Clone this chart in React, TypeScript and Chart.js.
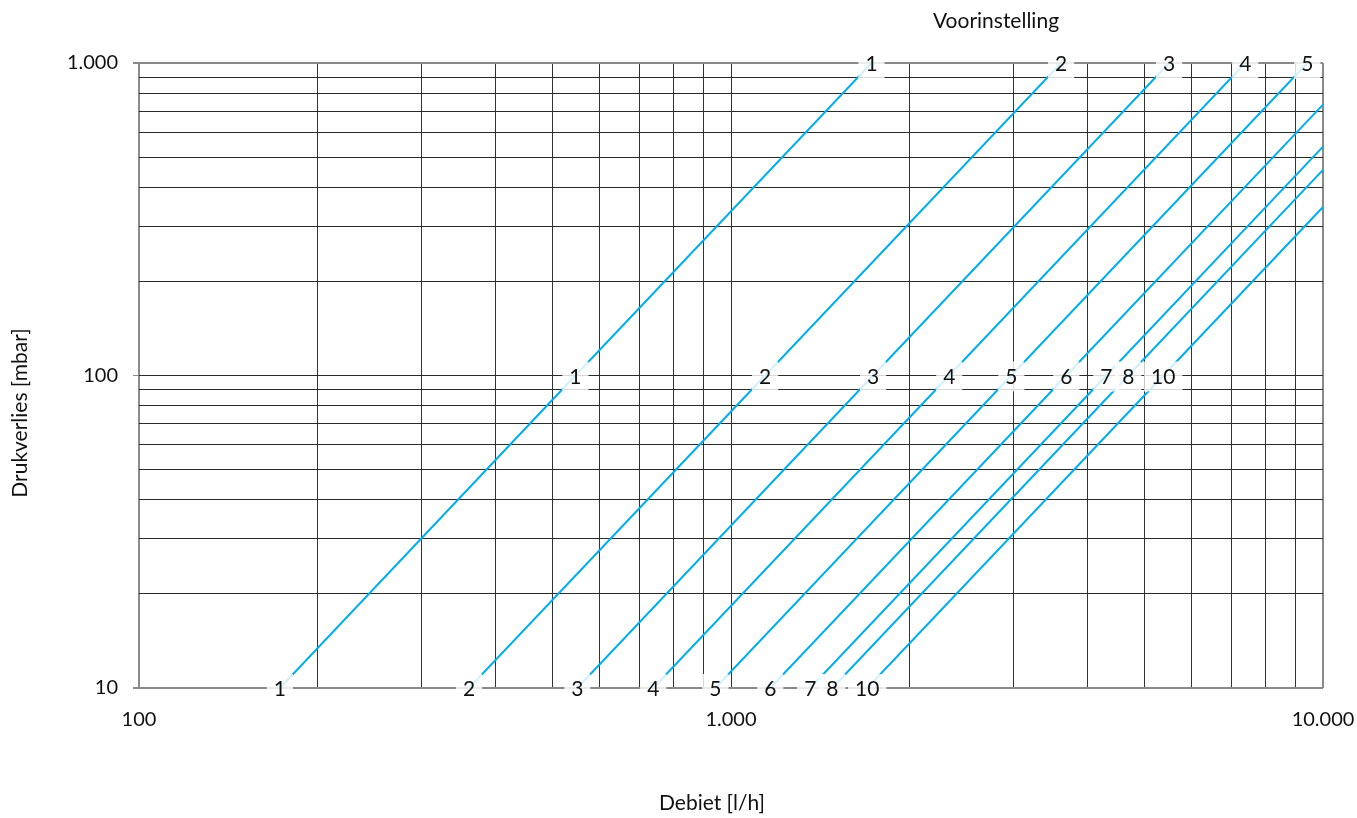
import { useEffect, useRef } from 'react';
import { Chart, registerables } from 'chart.js';

Chart.register(...registerables);

// Voorinstelling (pre-setting) curves
const SETTINGS = ['1', '2', '3', '4', '5', '6', '7', '8', '10'];
// flow [l/h] at 10 mbar
const FLOW_AT_10 = [173, 361, 550, 739, 941, 1165, 1361, 1483, 1699];
// flow [l/h] at 100 mbar
const FLOW_AT_100 = [546, 1142, 1738, 2337, 2975, 3685, 4305, 4689, 5373];
// end point of each curve (top edge or right edge of the chart)
const END_FLOW = [1727, 3611, 5496, 7390, 9408, 10000, 10000, 10000, 10000];
const END_PRESSURE = [1000, 1000, 1000, 1000, 1000, 736, 540, 455, 346];

const X_GRID = [100, 200, 300, 400, 500, 600, 700, 800, 900, 1000, 2000, 3000, 4000, 5000, 6000, 7000, 8000, 9000, 10000];
const Y_GRID = [10, 20, 30, 40, 50, 60, 70, 80, 90, 100, 200, 300, 400, 500, 600, 700, 800, 900, 1000];
const X_TICK_VALUES = [100, 1000, 10000];
const X_TICK_LABELS = ['100', '1.000', '10.000'];
const Y_TICK_VALUES = [10, 100, 1000];
const Y_TICK_LABELS = ['10', '100', '1.000'];

const X_TITLE = 'Debiet [l/h]';
const Y_TITLE = 'Drukverlies [mbar]';
const TOP_TITLE = 'Voorinstelling';

const FONT = 'Lato, "Open Sans", sans-serif';
const BLUE = '#00aeef';

export default function App() {
  const ref = useRef<HTMLCanvasElement | null>(null);

  useEffect(() => {
    if (!ref.current) return;

    const datasets = SETTINGS.map((s, i) => ({
      label: s,
      data: [
        { x: FLOW_AT_10[i], y: 10 },
        { x: FLOW_AT_100[i], y: 100 },
        { x: END_FLOW[i], y: END_PRESSURE[i] },
      ],
      borderColor: BLUE,
      backgroundColor: BLUE,
      borderWidth: 2,
      pointRadius: 0,
      tension: 0,
      fill: false,
    }));

    const labelPoints = (i: number): [number, number][] => {
      const pts: [number, number][] = [
        [FLOW_AT_10[i], 10],
        [FLOW_AT_100[i], 100],
      ];
      if (END_PRESSURE[i] === 1000) pts.push([END_FLOW[i], 1000]);
      return pts;
    };

    const labelPlugin = {
      id: 'curveLabels',
      afterDatasetsDraw(chart: any) {
        const ctx = chart.ctx;
        const xs = chart.scales.x;
        const ys = chart.scales.y;
        ctx.save();
        ctx.font = `21px ${FONT}`;
        SETTINGS.forEach((s, i) => {
          labelPoints(i).forEach(([q, p]) => {
            const px = xs.getPixelForValue(q);
            const py = ys.getPixelForValue(p);
            const w = ctx.measureText(s).width + 14;
            const h = 30;
            ctx.fillStyle = 'rgba(255,255,255,0.82)';
            ctx.fillRect(px - w / 2, py - h / 2 + 1, w, h);
          });
        });
        ctx.fillStyle = '#111';
        ctx.textAlign = 'center';
        ctx.textBaseline = 'alphabetic';
        SETTINGS.forEach((s, i) => {
          labelPoints(i).forEach(([q, p]) => {
            const px = xs.getPixelForValue(q);
            const py = ys.getPixelForValue(p);
            ctx.fillText(s, px, py + 8);
          });
        });
        ctx.restore();
      },
      afterDraw(chart: any) {
        const ctx = chart.ctx;
        ctx.save();
        ctx.fillStyle = '#111';
        ctx.font = `21px ${FONT}`;
        ctx.textAlign = 'center';
        ctx.textBaseline = 'alphabetic';
        ctx.fillText(TOP_TITLE, 996, 28);
        ctx.fillText(X_TITLE, 712, 810);
        ctx.translate(27, 413);
        ctx.rotate(-Math.PI / 2);
        ctx.fillText(Y_TITLE, 0, 0);
        ctx.restore();
      },
    };

    const chart = new Chart(ref.current, {
      type: 'line',
      data: { datasets },
      plugins: [labelPlugin],
      options: {
        animation: false,
        responsive: true,
        maintainAspectRatio: false,
        layout: { padding: { left: 0, top: 63, right: 34, bottom: 0 } },
        plugins: {
          legend: { display: false },
          tooltip: { enabled: false },
          title: { display: false },
        },
        scales: {
          x: {
            type: 'logarithmic',
            min: 100,
            max: 10000,
            afterBuildTicks: (scale: any) => {
              scale.ticks = X_GRID.map((v) => ({ value: v }));
            },
            afterFit: (scale: any) => {
              scale.height = 130;
              scale.paddingLeft = 0;
              scale.paddingRight = 0;
            },
            border: { display: false },
            grid: {
              drawTicks: false,
              color: (c: any) => (c.tick && (c.tick.value === 100 || c.tick.value === 10000) ? '#8a8a8a' : '#333'),
              lineWidth: (c: any) => (c.tick && (c.tick.value === 100 || c.tick.value === 10000) ? 2 : 1),
            },
            ticks: {
              autoSkip: false,
              maxRotation: 0,
              padding: 20,
              color: '#111',
              font: { family: FONT, size: 20 },
              callback: (value: any) => {
                const k = X_TICK_VALUES.indexOf(Number(value));
                return k >= 0 ? X_TICK_LABELS[k] : '';
              },
            },
          },
          y: {
            type: 'logarithmic',
            min: 10,
            max: 1000,
            afterBuildTicks: (scale: any) => {
              scale.ticks = Y_GRID.map((v) => ({ value: v }));
            },
            afterFit: (scale: any) => {
              scale.width = 139;
              scale.paddingTop = 0;
              scale.paddingBottom = 0;
            },
            border: { display: false },
            grid: {
              drawTicks: true,
              tickLength: 6,
              tickColor: (c: any) => (c.tick && Y_TICK_VALUES.includes(c.tick.value) ? '#8a8a8a' : 'rgba(0,0,0,0)'),
              color: (c: any) => (c.tick && (c.tick.value === 10 || c.tick.value === 1000) ? '#8a8a8a' : '#2a2a2a'),
              lineWidth: (c: any) => (c.tick && (c.tick.value === 10 || c.tick.value === 1000) ? 2 : 1),
            },
            ticks: {
              autoSkip: false,
              padding: 15,
              color: '#111',
              font: { family: FONT, size: 20 },
              callback: (value: any) => {
                const k = Y_TICK_VALUES.indexOf(Number(value));
                return k >= 0 ? Y_TICK_LABELS[k] : '';
              },
            },
          },
        },
      },
    } as any);

    return () => chart.destroy();
  }, []);

  return (
    <div style={{ position: 'fixed', left: 0, top: 0, width: 1357, height: 818, background: '#fff' }}>
      <canvas ref={ref} />
    </div>
  );
}
